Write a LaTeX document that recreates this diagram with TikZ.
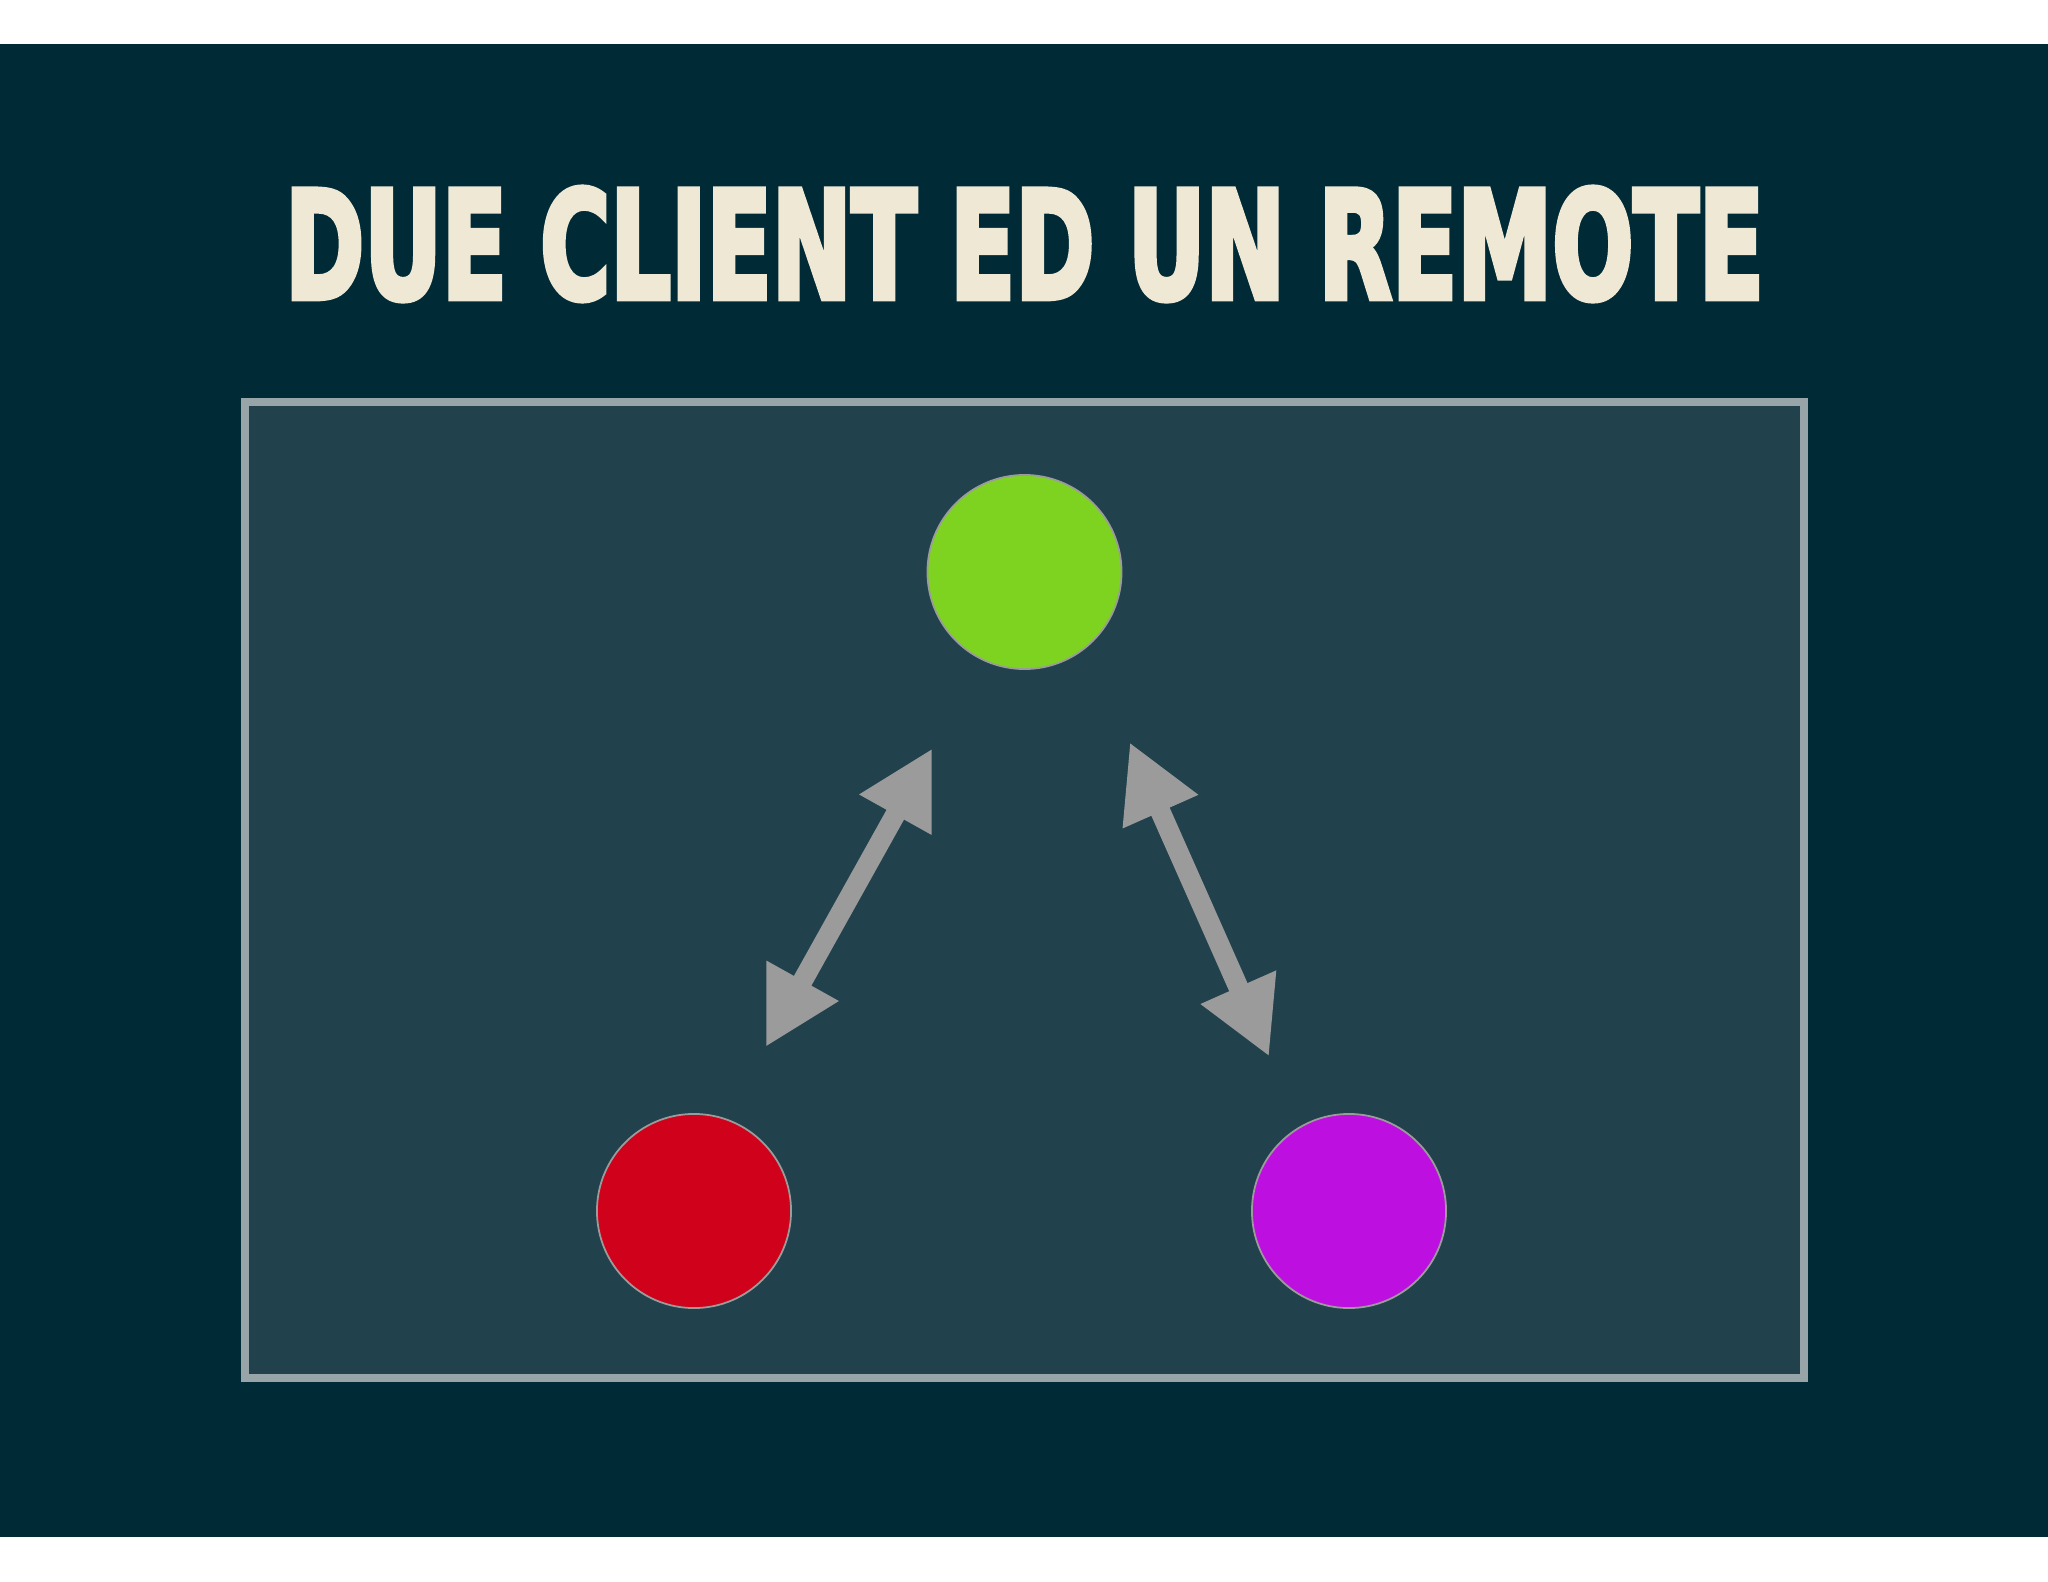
\documentclass[tikz,border=0pt]{standalone}
\usepackage{fontspec}
\newfontfamily\titrefonte[BoldFeatures={FakeBold=4}]{DejaVu Sans Condensed}
\usetikzlibrary{arrows.meta}

\definecolor{fond}{HTML}{002B36}
\definecolor{panneau}{HTML}{21424D}
\definecolor{cadre}{HTML}{97A5A9}
\definecolor{creme}{HTML}{EEE8D5}
\definecolor{vertvif}{HTML}{7ED321}
\definecolor{rougevif}{HTML}{D0021B}
\definecolor{violetvif}{HTML}{BD10E0}
\definecolor{fleche}{HTML}{9B9B9B}

\begin{document}
\begin{tikzpicture}[x=0.01cm, y=-0.01cm,
    rond/.style={circle, draw=fleche, line width=0.5pt, minimum size=1.94cm, inner sep=0pt},
    lien/.style={fleche, line width=0.2cm, {Triangle[length=0.76cm, width=0.77cm]}-{Triangle[length=0.76cm, width=0.77cm]}}]
  \useasboundingbox (0,0) rectangle (2048,1582);
  \fill[white] (0,0) rectangle (2048,1582);
  \fill[fond] (0,44) rectangle (2048,1537);

  \draw[cadre, fill=panneau, line width=0.08cm] (244.5,402) rectangle (1804,1378);

  \node[creme, inner sep=0pt] (titre) at (1024.5,244)
    {\resizebox{14.78cm}{1.11cm}{\titrefonte\bfseries DUE CLIENT ED UN REMOTE}};

  \foreach \nom/\x/\y/\couleur in {client1/694/1211/rougevif, remote/1024.5/572/vertvif, client2/1349/1211/violetvif}
    \node[rond, fill=\couleur] (\nom) at (\x,\y) {};

  \draw[lien, shorten <=0.815cm, shorten >=1.01cm] (client1.71) -- (remote.244);
  \draw[lien, shorten <=1.04cm, shorten >=0.76cm] (remote.310) -- (client2.120);
\end{tikzpicture}
\end{document}
